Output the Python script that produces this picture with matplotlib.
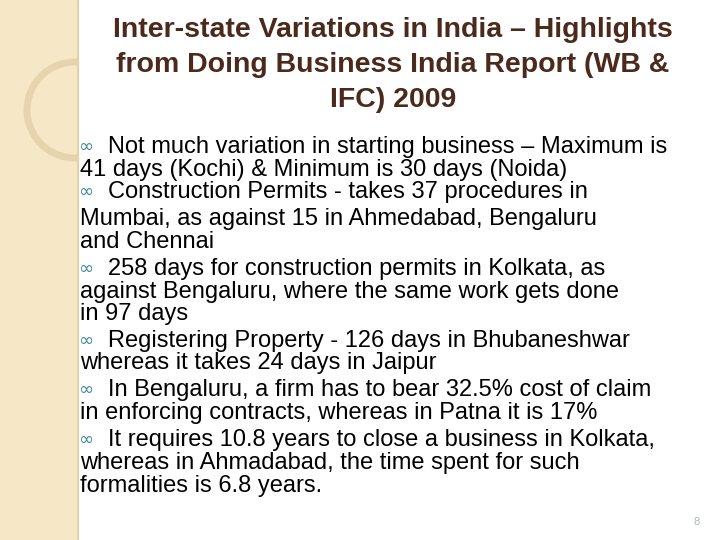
import matplotlib
matplotlib.use("Agg")
import matplotlib.pyplot as plt
from matplotlib.patches import Rectangle, Circle

title_lines = ["Inter-state Variations in India – Highlights",
               "from Doing Business India Report (WB &",
               "IFC) 2009"]
title_y = [30, 65, 100]
body = [
    (True,  "Not much variation in starting business – Maximum is", 147),
    (False, "41 days (Kochi) & Minimum is 30 days (Noida)", 170),
    (True,  "Construction Permits - takes 37 procedures in", 192),
    (False, "Mumbai, as against 15 in Ahmedabad, Bengaluru", 219),
    (False, "and Chennai", 242),
    (True,  "258 days for construction permits in Kolkata, as", 269),
    (False, "against Bengaluru, where the same work gets done", 292),
    (False, "in 97 days", 314),
    (True,  "Registering Property - 126 days in Bhubaneshwar", 341),
    (False, "whereas it takes 24 days in Jaipur", 363),
    (True,  "In Bengaluru, a firm has to bear 32.5% cost of claim", 390),
    (False, "in enforcing contracts, whereas in Patna it is 17%", 413),
    (True,  "It requires 10.8 years to close a business in Kolkata,", 440),
    (False, "whereas in Ahmadabad, the time spent for such", 463),
    (False, "formalities is 6.8 years.", 486),
]
page = "8"

fig = plt.figure(figsize=(7.2, 5.4), dpi=100)
ax = fig.add_axes([0, 0, 1, 1])
ax.set_xlim(0, 720); ax.set_ylim(540, 0); ax.axis("off")
stripe = Rectangle((0, 0), 78, 540, color="#F6E7C6", zorder=0)
ax.add_patch(stripe)
ring = Circle((75, 110), 48, fill=False, ec="#E6D4AE", lw=5, zorder=1)
ax.add_patch(ring)
ring.set_clip_path(stripe)
ax.plot([78, 78], [0, 540], color="#E3D2AE", lw=1.5)

for t, y in zip(title_lines, title_y):
    ax.text(393, y, t, ha="center", va="center", fontsize=20.5, fontweight="bold",
            color="#4B2A1C", family="Liberation Sans")
for bullet, t, y in body:
    if bullet:
        ax.text(78, y, "∞", ha="left", va="center", fontsize=13, color="#3F8C98",
                family="DejaVu Sans")
        ax.text(108, y, t, ha="left", va="center", fontsize=17, color="black",
                family="Liberation Sans")
    else:
        ax.text(80, y, t, ha="left", va="center", fontsize=17, color="black",
                family="Liberation Sans")
ax.text(697, 522, page, ha="center", va="center", fontsize=8, color="#A9B9C8",
        family="Liberation Sans")
fig.savefig("out.png", dpi=100)
